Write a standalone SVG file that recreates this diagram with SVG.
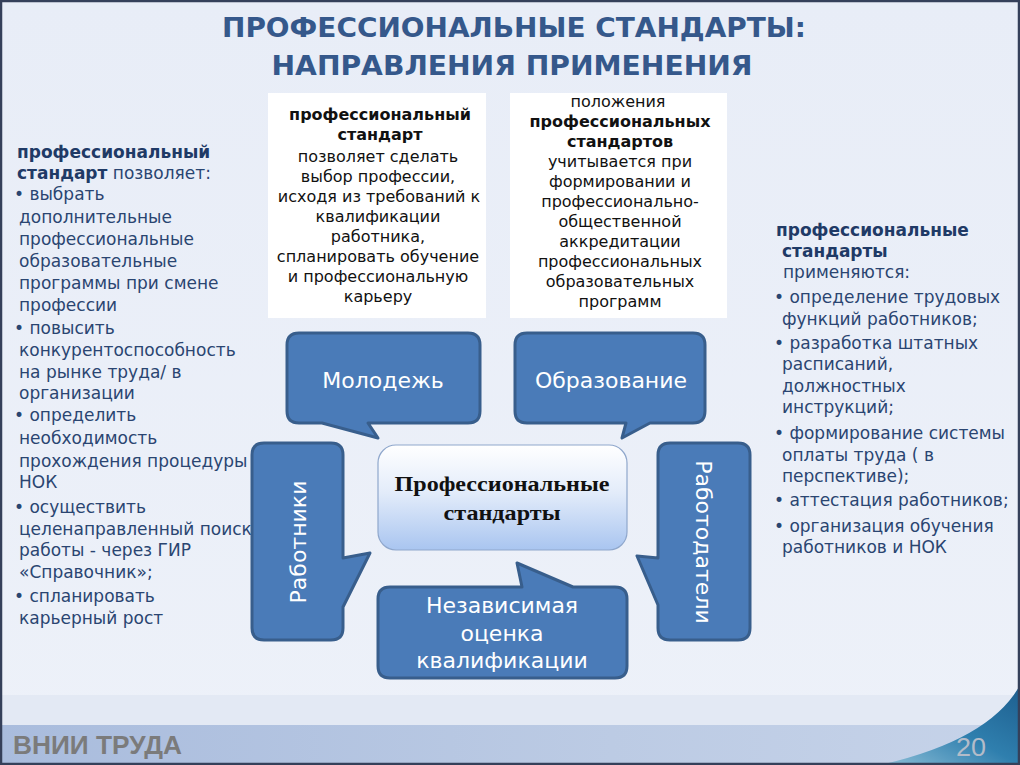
<svg xmlns="http://www.w3.org/2000/svg" width="1020" height="765" viewBox="0 0 1020 765">
<defs>
<linearGradient id="bg" x1="0" y1="0" x2="0" y2="1">
<stop offset="0" stop-color="#e8edf7"/>
<stop offset="1" stop-color="#edf1f9"/>
</linearGradient>
<linearGradient id="foot" x1="0" y1="0" x2="1" y2="0">
<stop offset="0" stop-color="#a9bcdd"/>
<stop offset="0.6" stop-color="#bccbe4"/>
<stop offset="1" stop-color="#c6d3e9"/>
</linearGradient>
<linearGradient id="swoosh" x1="0" y1="1" x2="1" y2="0">
<stop offset="0" stop-color="#8fc0d8"/>
<stop offset="0.5" stop-color="#2f7fae"/>
<stop offset="1" stop-color="#1d5e8e"/>
</linearGradient>
<linearGradient id="center" x1="0" y1="0" x2="0" y2="1">
<stop offset="0" stop-color="#ffffff"/>
<stop offset="0.45" stop-color="#e3ecfa"/>
<stop offset="1" stop-color="#a9c5f0"/>
</linearGradient>
<style>
.col{font-family:"DejaVu Sans",Verdana,sans-serif;font-size:17px;fill:#2a4571}
.colb{font-weight:bold;fill:#1f3a66}
.box{font-family:"DejaVu Sans",Verdana,sans-serif;font-size:16px;fill:#111;text-anchor:middle}
.bb{font-weight:bold}
.call{fill:#4a7bb8;stroke:#385e8c;stroke-width:3;stroke-linejoin:round}
.ct{font-family:"DejaVu Sans",Verdana,sans-serif;font-size:22px;fill:#ffffff;text-anchor:middle}
.title{font-family:"DejaVu Sans",Verdana,sans-serif;font-weight:bold;font-size:27px;fill:#35588b;text-anchor:middle}
.cen{font-family:"Liberation Serif","Times New Roman",serif;font-weight:bold;font-size:20px;fill:#111;text-anchor:middle}
</style>
</defs>
<rect x="0" y="0" width="1020" height="765" fill="url(#bg)"/>
<rect x="0" y="695" width="1020" height="30" fill="#e3e9f4"/>
<rect x="0" y="725" width="1020" height="38" fill="url(#foot)"/>
<path d="M880,765 Q990,740 1020,685 L1020,765 Z" fill="url(#swoosh)"/>
<rect x="1" y="1" width="1018" height="763" fill="none" stroke="#35405a" stroke-width="2.5"/>
<text x="13" y="754" font-family="'Liberation Sans',Arial,sans-serif" font-weight="bold" font-size="26" fill="#7b7b7b" textLength="169" lengthAdjust="spacingAndGlyphs">ВНИИ ТРУДА</text>
<text x="956" y="756" font-family="'Liberation Sans',Arial,sans-serif" font-size="26" fill="#b3bcc9" textLength="30" lengthAdjust="spacingAndGlyphs">20</text>

<g id="title">
<text class="title" x="514" y="37" textLength="584" lengthAdjust="spacingAndGlyphs">ПРОФЕССИОНАЛЬНЫЕ СТАНДАРТЫ:</text>
<text class="title" x="512" y="75" textLength="481" lengthAdjust="spacingAndGlyphs">НАПРАВЛЕНИЯ ПРИМЕНЕНИЯ</text>
</g>

<g id="left-text" class="col">
<text x="17" y="158" class="colb">профессиональный</text>
<text x="17" y="179"><tspan class="colb">стандарт</tspan> позволяет:</text>
<text x="14" y="200">• выбрать</text>
<text x="19" y="223">дополнительные</text>
<text x="19" y="245">профессиональные</text>
<text x="19" y="267">образовательные</text>
<text x="19" y="289">программы при смене</text>
<text x="19" y="311">профессии</text>
<text x="14" y="334">• повысить</text>
<text x="19" y="356">конкурентоспособность</text>
<text x="19" y="378">на рынке труда/  в</text>
<text x="19" y="399">организации</text>
<text x="14" y="421">• определить</text>
<text x="19" y="444">необходимость</text>
<text x="19" y="467">прохождения процедуры</text>
<text x="19" y="488">НОК</text>
<text x="14" y="513">• осуществить</text>
<text x="19" y="535">целенаправленный поиск</text>
<text x="19" y="556">работы - через ГИР</text>
<text x="19" y="578">«Справочник»;</text>
<text x="14" y="602">• спланировать</text>
<text x="19" y="624">карьерный рост</text>
</g>

<g id="right-text" class="col">
<text x="776" y="236" class="colb">профессиональные</text>
<text x="782" y="257" class="colb">стандарты</text>
<text x="783" y="278">применяются:</text>
<text x="774" y="303">• определение трудовых</text>
<text x="782" y="325">функций работников;</text>
<text x="774" y="349">• разработка штатных</text>
<text x="782" y="370">расписаний,</text>
<text x="782" y="392">должностных</text>
<text x="782" y="413">инструкций;</text>
<text x="774" y="439">• формирование системы</text>
<text x="782" y="461">оплаты труда ( в</text>
<text x="782" y="482">перспективе);</text>
<text x="774" y="506">• аттестация работников;</text>
<text x="774" y="532">• организация обучения</text>
<text x="782" y="553">работников и НОК</text>
</g>

<g id="box-profstandard">
<rect x="268" y="93" width="218" height="225" fill="#ffffff"/>
<text class="box bb" x="380" y="120">профессиональный</text>
<text class="box bb" x="380" y="140">стандарт</text>
<text class="box" x="378" y="162">позволяет сделать</text>
<text class="box" x="378" y="182">выбор профессии,</text>
<text class="box" x="379" y="202">исходя из требований к</text>
<text class="box" x="378" y="222">квалификации</text>
<text class="box" x="378" y="242">работника,</text>
<text class="box" x="378" y="262">спланировать обучение</text>
<text class="box" x="378" y="282">и  профессиональную</text>
<text class="box" x="378" y="302">карьеру</text>
</g>

<g id="box-provisions">
<rect x="510" y="93" width="217" height="225" fill="#ffffff"/>
<text class="box" x="618" y="107">положения</text>
<text class="box bb" x="620" y="127">профессиональных</text>
<text class="box bb" x="620" y="147">стандартов</text>
<text class="box" x="620" y="167">учитывается при</text>
<text class="box" x="620" y="187">формировании и</text>
<text class="box" x="620" y="207">профессионально-</text>
<text class="box" x="620" y="227">общественной</text>
<text class="box" x="620" y="247">аккредитации</text>
<text class="box" x="620" y="267">профессиональных</text>
<text class="box" x="620" y="287">образовательных</text>
<text class="box" x="620" y="307">программ</text>
</g>

<g id="connectors"></g>

<g id="node-youth">
<path class="call" d="M299,333 H468 Q480,333 480,345 V411 Q480,423 468,423 H368 L378,438 L322,423 H299 Q287,423 287,411 V345 Q287,333 299,333 Z"/>
<text class="ct" x="383" y="388">Молодежь</text>
</g>

<g id="node-education">
<path class="call" d="M527,333 H693 Q705,333 705,345 V411 Q705,423 693,423 H650 L622,438 L626,423 H527 Q515,423 515,411 V345 Q515,333 527,333 Z"/>
<text class="ct" x="611" y="388">Образование</text>
</g>

<g id="node-workers">
<path class="call" d="M264,443 H331 Q343,443 343,455 V558 L370,553 L343,607 V628 Q343,640 331,640 H264 Q252,640 252,628 V455 Q252,443 264,443 Z"/>
<text class="ct" transform="translate(306,542) rotate(-90)" x="0" y="0">Работники</text>
</g>

<g id="node-employers">
<path class="call" d="M670,443 H738 Q750,443 750,455 V628 Q750,640 738,640 H670 Q658,640 658,628 V605 L637,556 L658,558 V455 Q658,443 670,443 Z"/>
<text class="ct" transform="translate(696,542) rotate(90)" x="0" y="0">Работодатели</text>
</g>

<g id="node-assessment">
<path class="call" d="M390,587 H522 L517,563 L573,587 H615 Q627,587 627,599 V666 Q627,678 615,678 H390 Q378,678 378,666 V599 Q378,587 390,587 Z"/>
<text class="ct" x="502" y="613">Независимая</text>
<text class="ct" x="502" y="641">оценка</text>
<text class="ct" x="502" y="668">квалификации</text>
</g>

<g id="node-center">
<rect x="378" y="445" width="249" height="105" rx="18" fill="url(#center)" stroke="#8fa7cc" stroke-width="1.2"/>
<text class="cen" x="502" y="491" textLength="215" lengthAdjust="spacingAndGlyphs">Профессиональные</text>
<text class="cen" x="502" y="520" textLength="117" lengthAdjust="spacingAndGlyphs">стандарты</text>
</g>
</svg>
